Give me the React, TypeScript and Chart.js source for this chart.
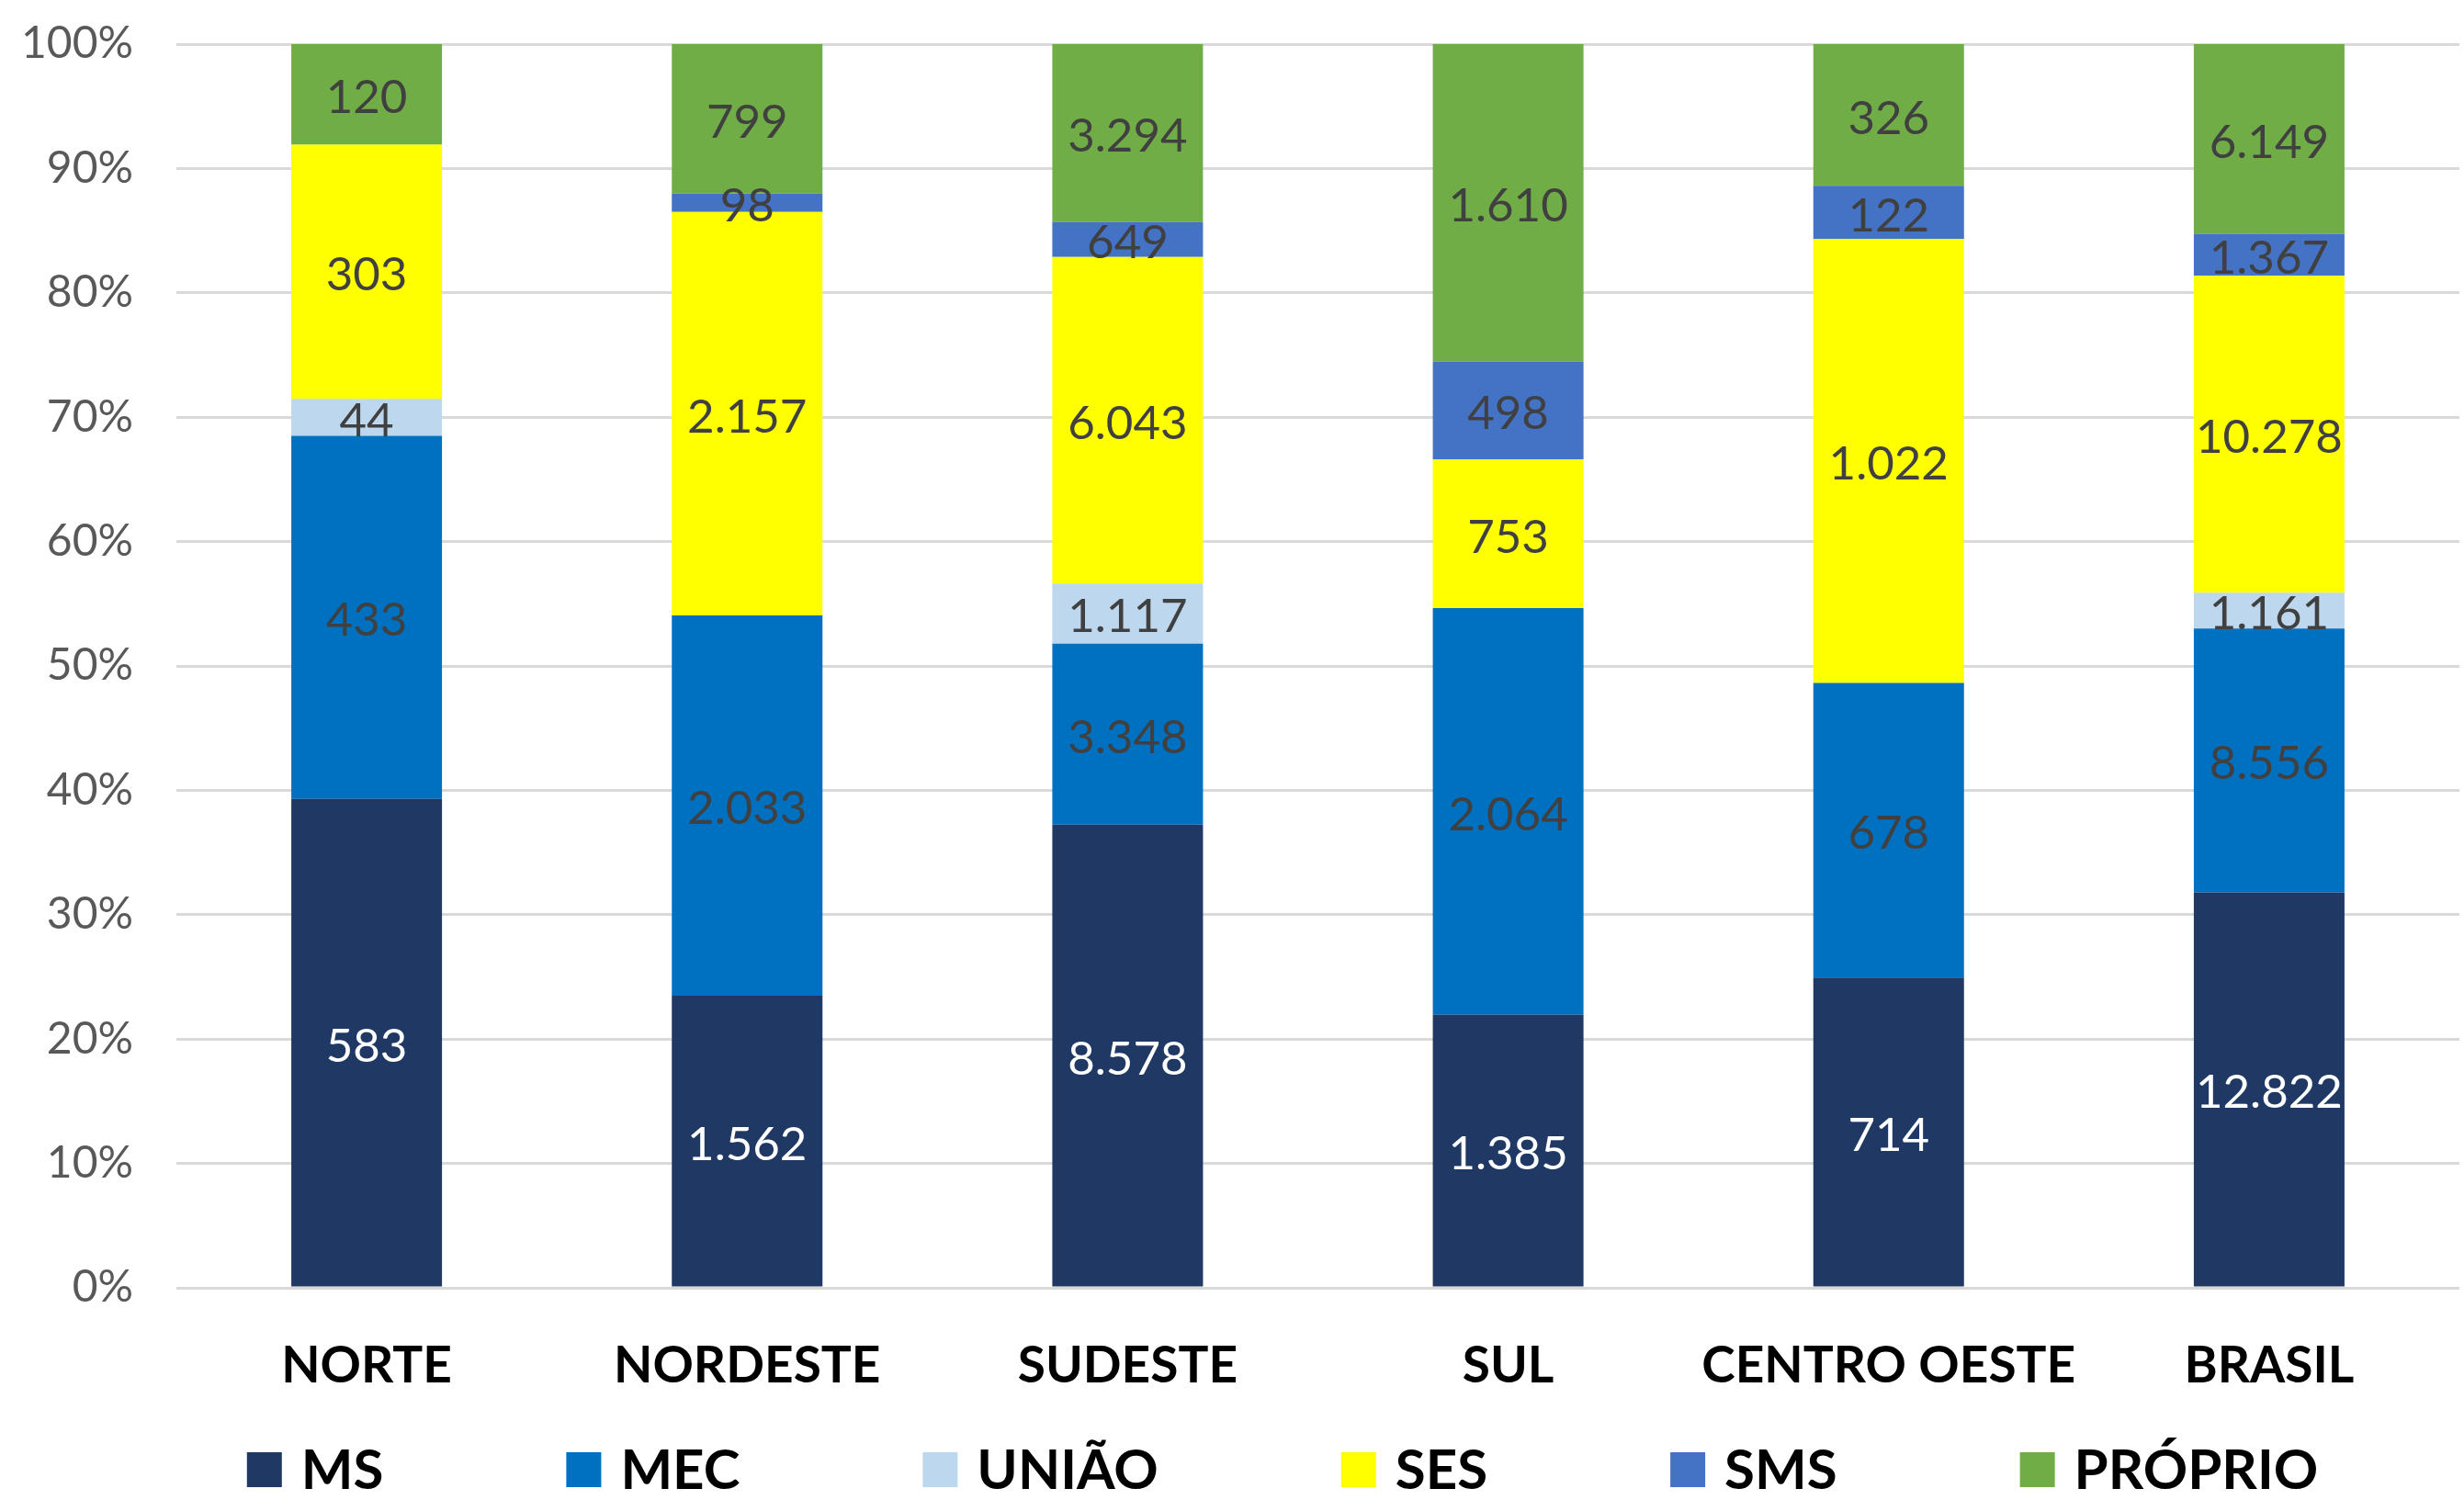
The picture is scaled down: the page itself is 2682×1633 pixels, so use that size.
import React, { useEffect, useRef } from "react";
import { Chart, registerables } from "chart.js";

Chart.register(...registerables);

const categories = ["NORTE", "NORDESTE", "SUDESTE", "SUL", "CENTRO OESTE", "BRASIL"];
const seriesNames = ["MS", "MEC", "UNIÃO", "SES", "SMS", "PRÓPRIO"];
const seriesColors = ["#1F3864", "#0070C0", "#BDD7EE", "#FFFF00", "#4472C4", "#70AD47"];
const labelColors = ["#FFFFFF", "#404040", "#404040", "#404040", "#404040", "#404040"];

const msValues = [583, 1562, 8578, 1385, 714, 12822];
const mecValues = [433, 2033, 3348, 2064, 678, 8556];
const uniaoValues = [44, null, 1117, null, null, 1161];
const sesValues = [303, 2157, 6043, 753, 1022, 10278];
const smsValues = [null, 98, 649, 498, 122, 1367];
const proprioValues = [120, 799, 3294, 1610, 326, 6149];

const yTickValues = [0, 10, 20, 30, 40, 50, 60, 70, 80, 90, 100];

const allSeries: (number | null)[][] = [msValues, mecValues, uniaoValues, sesValues, smsValues, proprioValues];

const FONT = "Lato, 'Open Sans', 'Liberation Sans', sans-serif";

function fmt(v: number): string {
  return String(v).replace(/\B(?=(\d{3})+(?!\d))/g, ".");
}

const totals = categories.map((_, i) =>
  allSeries.reduce((s, arr) => s + (arr[i] ?? 0), 0)
);

const dataLabelPlugin = {
  id: "segLabels",
  afterDatasetsDraw(chart: any) {
    const ctx = chart.ctx;
    ctx.save();
    ctx.font = `51px ${FONT}`;
    ctx.textAlign = "center";
    ctx.textBaseline = "middle";
    chart.data.datasets.forEach((ds: any, di: number) => {
      const meta = chart.getDatasetMeta(di);
      meta.data.forEach((el: any, i: number) => {
        const raw = ds.rawValues[i];
        if (raw === null || raw === undefined) return;
        const y = (el.y + el.base) / 2 + 4;
        ctx.fillStyle = ds.labelColor;
        ctx.fillText(fmt(raw), el.x, y);
      });
    });
    ctx.restore();
  },
};

const legendPlugin = {
  id: "customLegend",
  afterDraw(chart: any) {
    const ctx = chart.ctx;
    ctx.save();
    ctx.font = `bold 60px ${FONT}`;
    ctx.textBaseline = "middle";
    ctx.textAlign = "left";
    const box = 38;
    const gapBoxText = 21;
    const gapItems = 199;
    const items = chart.data.datasets.map((ds: any) => ({
      label: ds.label,
      color: ds.backgroundColor,
      w: box + gapBoxText + ctx.measureText(ds.label).width,
    }));
    const total = items.reduce((s: number, it: any) => s + it.w, 0) + gapItems * (items.length - 1);
    let x = 1396 - total / 2;
    const cy = 1600;
    items.forEach((it: any) => {
      ctx.fillStyle = it.color;
      ctx.fillRect(x, cy - box / 2, box, box);
      ctx.fillStyle = "#000000";
      ctx.fillText(it.label, x + box + gapBoxText, cy + 2);
      x += it.w + gapItems;
    });
    ctx.restore();
  },
};

export default function App() {
  const ref = useRef<HTMLCanvasElement | null>(null);

  useEffect(() => {
    if (!ref.current) return;
    const datasets = seriesNames.map((name, si) => ({
      label: name,
      data: allSeries[si].map((v, i) => (v === null ? null : (v / totals[i]) * 100)),
      rawValues: allSeries[si],
      labelColor: labelColors[si],
      backgroundColor: seriesColors[si],
      borderWidth: 0,
      categoryPercentage: 1,
      barPercentage: 0.396,
    }));
    const chart = new Chart(ref.current, {
      type: "bar",
      data: { labels: categories, datasets: datasets as any },
      options: {
        animation: false,
        responsive: true,
        maintainAspectRatio: false,
        layout: { padding: { top: 48, right: 5, left: 0, bottom: 0 } },
        plugins: {
          legend: { display: false },
          tooltip: { enabled: false },
          title: { display: false },
        },
        scales: {
          x: {
            stacked: true,
            grid: { display: false },
            border: { display: false },
            ticks: {
              color: "#000000",
              font: { family: FONT, size: 55, weight: "bold" },
              padding: 44,
              maxRotation: 0,
              autoSkip: false,
            },
            afterFit: (scale: any) => {
              scale.height = 1633 - 1402;
            },
          },
          y: {
            stacked: true,
            min: 0,
            max: 100,
            afterBuildTicks: (scale: any) => {
              scale.ticks = yTickValues.map((v) => ({ value: v }));
            },
            grid: { color: "#D9D9D9", lineWidth: 3, drawTicks: false },
            border: { display: false },
            ticks: {
              color: "#595959",
              font: { family: FONT, size: 48 },
              padding: 47,
              callback: (v: any) => `${v}%`,
            },
            afterFit: (scale: any) => {
              scale.width = 192;
              scale.paddingTop = 0;
              scale.paddingBottom = 0;
            },
          },
        },
      },
      plugins: [dataLabelPlugin, legendPlugin],
    });
    return () => chart.destroy();
  }, []);

  return (
    <div style={{ position: "fixed", left: 0, top: 0, width: "2682px", height: "1633px", background: "#ffffff" }}>
      <canvas ref={ref} />
    </div>
  );
}
